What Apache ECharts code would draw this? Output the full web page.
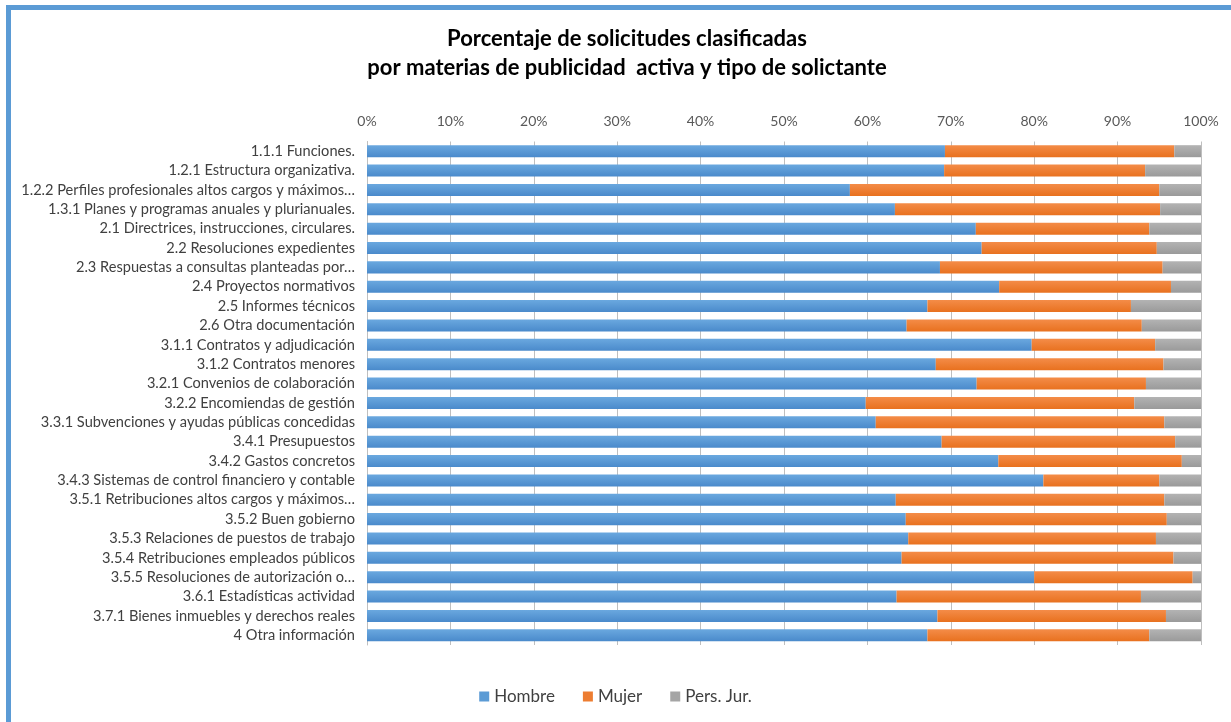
<!DOCTYPE html>
<html>
<head>
<meta charset="utf-8">
<title>Porcentaje de solicitudes clasificadas</title>
<script src="https://cdn.jsdelivr.net/npm/echarts@6/dist/echarts.min.js"></script>
<style>
  body { margin: 0; background: #fff; }
  #main { position: absolute; left: 0; top: 0; width: 1231px; height: 722px; }
  /* marco azul del gráfico (solo arriba e izquierda) */
  .marco {
    position: absolute; left: 6px; top: 5px; right: 0; bottom: 0;
    border-left: 5px solid #5b9bd5; border-top: 5px solid #5b9bd5;
    pointer-events: none;
  }
</style>
</head>
<body>
<div id="main"></div>
<div class="marco"></div>
<script>
  // categorías (materias de publicidad activa)
  var categorias = [
    '1.1.1 Funciones.',
    '1.2.1 Estructura organizativa.',
    '1.2.2 Perfiles profesionales altos cargos y máximos…',
    '1.3.1 Planes y programas anuales y plurianuales.',
    '2.1 Directrices, instrucciones, circulares.',
    '2.2 Resoluciones expedientes',
    '2.3 Respuestas a consultas planteadas por…',
    '2.4 Proyectos normativos',
    '2.5 Informes técnicos',
    '2.6 Otra documentación',
    '3.1.1 Contratos y adjudicación',
    '3.1.2 Contratos menores',
    '3.2.1 Convenios de colaboración',
    '3.2.2 Encomiendas de gestión',
    '3.3.1 Subvenciones y ayudas públicas concedidas',
    '3.4.1 Presupuestos',
    '3.4.2 Gastos concretos',
    '3.4.3 Sistemas de control financiero y contable',
    '3.5.1 Retribuciones altos cargos y máximos…',
    '3.5.2 Buen gobierno',
    '3.5.3 Relaciones de puestos de trabajo',
    '3.5.4 Retribuciones empleados públicos',
    '3.5.5 Resoluciones de autorización o…',
    '3.6.1 Estadísticas actividad',
    '3.7.1 Bienes inmuebles y derechos reales',
    '4 Otra información'
  ];

  // porcentajes por tipo de solicitante
  var hombre = [69.3, 69.2, 57.9, 63.3, 73.0, 73.7, 68.7, 75.8, 67.2, 64.7, 79.7, 68.2, 73.1,
                59.8, 61.0, 68.9, 75.7, 81.1, 63.4, 64.6, 64.9, 64.1, 80.0, 63.5, 68.4, 67.2];
  var mujer = [27.5, 24.1, 37.1, 31.8, 20.8, 21.0, 26.7, 20.6, 24.4, 28.2, 14.8, 27.3, 20.3,
               32.2, 34.6, 28.0, 22.0, 13.9, 32.2, 31.3, 29.7, 32.6, 19.0, 29.3, 27.4, 26.6];
  var persJur = [3.2, 6.7, 5.0, 4.9, 6.2, 5.3, 4.6, 3.6, 8.4, 7.1, 5.5, 4.5, 6.6,
                 8.0, 4.4, 3.1, 2.3, 5.0, 4.4, 4.1, 5.4, 3.3, 1.0, 7.2, 4.2, 6.2];

  var ejeTicks = ['0%', '10%', '20%', '30%', '40%', '50%', '60%', '70%', '80%', '90%', '100%'];

  var fuente = 'Lato, "Liberation Sans", sans-serif';

  // degradado suave como en Excel
  function degradado(arriba, abajo) {
    return new echarts.graphic.LinearGradient(0, 0, 0, 1, [
      { offset: 0, color: arriba },
      { offset: 1, color: abajo }
    ]);
  }

  var myChart = echarts.init(document.getElementById('main'));

  function serie(nombre, datos, c1, c2) {
    return {
      name: nombre,
      type: 'bar',
      stack: 'total',
      barCategoryGap: '38%',
      data: datos,
      itemStyle: { color: degradado(c1, c2) }
    };
  }

  var options = {
    animation: false,
    color: ['#5b9bd5', '#ed7d31', '#a5a5a5'],
    title: {
      text: 'Porcentaje de solicitudes clasificadas\npor materias de publicidad  activa y tipo de solictante',
      left: 622,
      top: 19,
      textAlign: 'center',
      textStyle: {
        fontFamily: fuente,
        fontSize: 22,
        fontWeight: 'bold',
        color: '#000',
        lineHeight: 29
      }
    },
    legend: {
      bottom: 12,
      left: 'center',
      itemWidth: 10,
      itemHeight: 10,
      itemGap: 28,
      icon: 'rect',
      textStyle: { fontFamily: fuente, fontSize: 17, color: '#404040' },
      data: [
        { name: 'Hombre', itemStyle: { color: '#5b9bd5' } },
        { name: 'Mujer', itemStyle: { color: '#ed7d31' } },
        { name: 'Pers. Jur.', itemStyle: { color: '#a5a5a5' } }
      ]
    },
    grid: {
      left: 367,
      right: 30,
      top: 141.5,
      bottom: 77
    },
    xAxis: {
      type: 'value',
      position: 'top',
      min: 0,
      max: 100,
      interval: 10,
      axisLine: { show: false },
      axisTick: { show: false },
      axisLabel: {
        margin: 13,
        fontFamily: fuente,
        fontSize: 14,
        color: '#595959',
        formatter: function (v) { return ejeTicks[Math.round(v / 10)]; }
      },
      splitLine: { lineStyle: { color: '#bfbfbf', width: 1 } }
    },
    yAxis: {
      type: 'category',
      inverse: true,
      data: categorias,
      axisLine: { lineStyle: { color: '#bfbfbf' } },
      axisTick: { show: false },
      axisLabel: {
        interval: 0,
        margin: 12,
        fontFamily: fuente,
        fontSize: 14.6,
        color: '#404040'
      }
    },
    series: [
      serie('Hombre', hombre, '#6aa8df', '#4a8acb'),
      serie('Mujer', mujer, '#f48c48', '#e8711f'),
      serie('Pers. Jur.', persJur, '#b3b3b3', '#9a9a9a')
    ]
  };

  myChart.setOption(options);
</script>
</body>
</html>
